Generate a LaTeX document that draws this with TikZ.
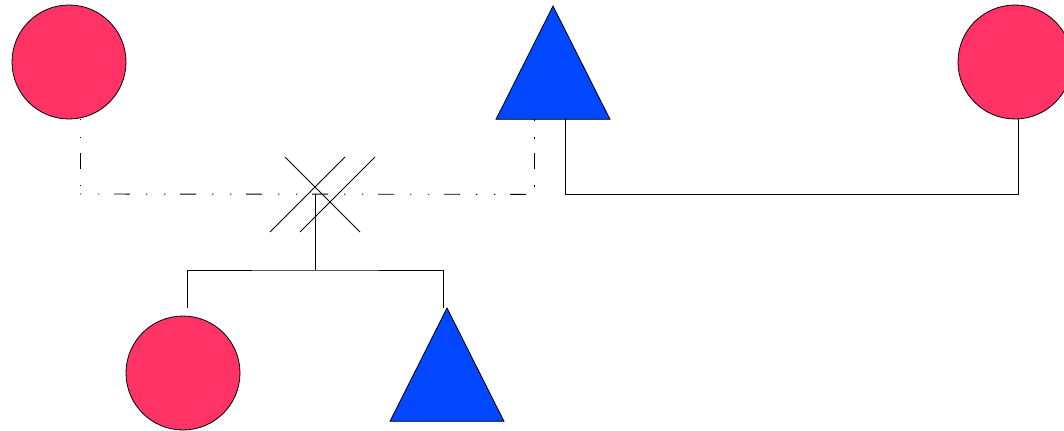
\documentclass[tikz,border=0pt]{standalone}
\usetikzlibrary{shapes.geometric}
\definecolor{fem}{RGB}{255,51,102}
\definecolor{mal}{RGB}{0,71,255}
\begin{document}
\begin{tikzpicture}[x=0.75pt,y=-0.75pt,line width=0.6pt,
  female/.style={circle,draw=black,fill=fem,minimum size=85.5pt,inner sep=0pt,outer sep=0pt},
  male/.style={isosceles triangle,shape border rotate=90,isosceles triangle stretches,draw=black,fill=mal,minimum width=85.5pt,minimum height=85pt,inner sep=0pt,outer sep=0pt},
  dd/.style={line width=0.7pt,dash pattern=on 1.1pt off 12.4pt on 1.1pt off 10.9pt on 12pt off 12pt}]
\useasboundingbox (0,0) rectangle (1064,431);
\node[female] (c1) at (69,62) {};
\node[male,anchor=apex] (t1) at (553,6) {};
\node[female] (c2) at (1015,62) {};
\node[female] (c3) at (183,373) {};
\node[male,anchor=apex] (t2) at (447,308) {};
\coordinate (mid) at (315,194);
\coordinate (sib) at (315,270);
\draw[dd] ([xshift=8.25pt]c1.south) -- ++(0,75) coordinate (dl);
\draw[dd] ([xshift=-14.25pt]t1.south) -- ++(0,75) coordinate (dr);
\draw[dd] (dl) -- (dr);
\draw ([xshift=9pt]t1.south) -- ++(0,75) -| ([xshift=2.25pt]c2.south);
\draw (mid) -- (sib);
\draw ([shift={(3pt,6pt)}]c3.north) |- (sib) -| ([xshift=-3pt]t2.apex);
\draw ([shift={(-30,-37)}]mid) -- ([shift={(45,38)}]mid);
\draw ([shift={(-45,38)}]mid) -- ([shift={(30,-37)}]mid);
\draw ([shift={(-15,38)}]mid) -- ([shift={(60,-37)}]mid);
\end{tikzpicture}
\end{document}
